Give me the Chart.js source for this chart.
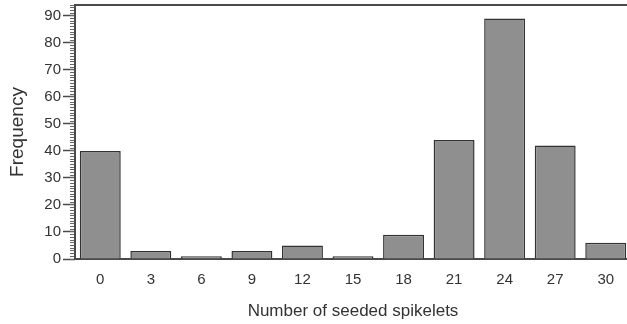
<!DOCTYPE html>
<html>
<head>
<meta charset="utf-8">
<script src="https://cdn.jsdelivr.net/npm/chart.js@4/dist/chart.umd.min.js"></script>
<style>
  html, body { margin: 0; padding: 0; background: #fff; overflow: hidden; }
  #wrap { position: absolute; left: 0; top: 0; width: 631px; height: 324px; }
</style>
</head>
<body>
<div id="wrap"><canvas id="c" width="631" height="324"></canvas></div>
<script>
// Seeded spikelet classes and how many plants fell in each
const categories = ['0', '3', '6', '9', '12', '15', '18', '21', '24', '27', '30'];
const frequency = [40, 3, 1, 3, 5, 1, 9, 44, 89, 42, 6];
const yMajorTicks = [0, 10, 20, 30, 40, 50, 60, 70, 80, 90];
const yMax = 94;

const axisColor = '#4a4a4a';
const textColor = '#333';

Chart.defaults.font.family = '"Liberation Sans", Arial, sans-serif';
Chart.defaults.color = textColor;

// keep the value axes from reserving room above/below the plot for their labels
const noVerticalPadding = s => { s.paddingTop = 0; s.paddingBottom = 0; };

new Chart(document.getElementById('c'), {
  type: 'bar',
  data: {
    labels: categories,
    datasets: [{
      data: frequency,
      backgroundColor: '#8f8f8f',
      borderColor: '#333',
      borderWidth: 1.5,
      categoryPercentage: 1,
      barPercentage: 0.81
    }]
  },
  options: {
    responsive: false,
    animation: false,
    layout: { padding: 0 },
    plugins: { legend: { display: false }, tooltip: { enabled: false } },
    scales: {
      x: {
        type: 'category',
        position: 'bottom',
        grid: { display: false },
        border: { display: true, color: axisColor, width: 2 },
        ticks: { font: { size: 15 }, padding: 4, color: textColor, maxRotation: 0 },
        title: {
          display: true,
          text: 'Number of seeded spikelets',
          font: { size: 17 },
          color: textColor,
          padding: { top: 0, bottom: 2 }
        },
        afterFit: s => { s.height = 65; }
      },
      xTop: {
        type: 'category',
        position: 'top',
        labels: categories,
        grid: { display: false },
        border: { display: true, color: axisColor, width: 2 },
        ticks: { display: false },
        afterFit: s => { s.height = 5; s.paddingLeft = 0; s.paddingRight = 0; }
      },
      y: {
        type: 'linear',
        position: 'left',
        weight: 1,
        min: 0,
        max: yMax,
        afterBuildTicks: s => { s.ticks = yMajorTicks.map(v => ({ value: v })); },
        grid: {
          drawOnChartArea: false,
          drawTicks: true,
          tickLength: 12,
          tickColor: axisColor,
          tickWidth: 1.5
        },
        border: { display: false },
        ticks: { font: { size: 15 }, padding: 2, color: textColor },
        title: {
          display: true,
          text: 'Frequency',
          font: { size: 19 },
          color: textColor,
          padding: { top: 6, bottom: 0 }
        },
        afterFit: s => { s.width = 75; noVerticalPadding(s); }
      },
      yMinor: {
        type: 'linear',
        position: 'left',
        weight: 0,
        min: 0,
        max: yMax,
        ticks: { display: false, stepSize: 1 },
        grid: {
          drawOnChartArea: false,
          drawTicks: true,
          tickLength: 5,
          tickColor: '#666',
          tickWidth: 1
        },
        border: { display: true, color: axisColor, width: 2 },
        afterFit: s => { s.width = 0; noVerticalPadding(s); }
      }
    }
  }
});
</script>
</body>
</html>
